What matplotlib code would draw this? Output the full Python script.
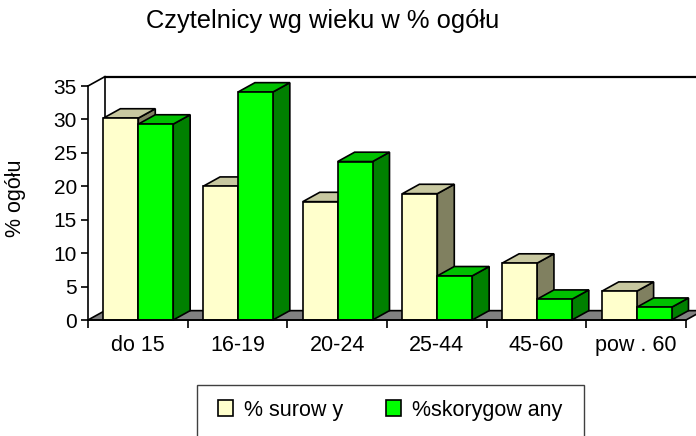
import matplotlib.pyplot as plt
from matplotlib.patches import Polygon, Rectangle, Patch
import numpy as np

plt.rcParams['font.family'] = ['Liberation Sans', 'DejaVu Sans']

categories = ['do 15', '16-19', '20-24', '25-44', '45-60', 'pow . 60']
surowy = [30.2, 20.0, 17.7, 18.9, 8.5, 4.3]
skorygowany = [29.3, 34.1, 23.7, 6.6, 3.1, 1.9]
series_names = ['% surow y', '%skorygow any']
yticks = [0, 5, 10, 15, 20, 25, 30, 35]

# face colours: front, top, side
cream = ('#FFFFCC', '#C8C8A0', '#808060')
green = ('#00FF00', '#00C000', '#008000')

DX, DY = 0.17, 1.4   # depth offset in data units
BAR_W = 0.35
LW = 1.2

fig = plt.figure(figsize=(6.96, 4.36), dpi=100)
ax = fig.add_axes([88 / 696, 1 - 320 / 436, 598 / 696, 234 / 436])
n = len(categories)
ax.set_xlim(0, n)
ax.set_ylim(0, 35)


def poly(pts, color, z):
    ax.add_patch(Polygon(pts, closed=True, facecolor=color, edgecolor='black',
                         linewidth=LW, zorder=z, clip_on=False))


# floor and back wall
poly([(0, 0), (n, 0), (n + DX, DY), (DX, DY)], '#808080', 1)
ax.plot([0, DX], [35, 35 + DY], color='black', lw=LW, clip_on=False, zorder=1)
ax.plot([DX, DX], [DY, 35 + DY], color='black', lw=LW, clip_on=False, zorder=1)
ax.plot([DX, n + DX], [35 + DY, 35 + DY], color='black', lw=LW + 0.4, clip_on=False, zorder=1)


def bar3d(left, h, cols, z):
    r = left + BAR_W
    poly([(r, 0), (r + DX, DY), (r + DX, h + DY), (r, h)], cols[2], z)
    poly([(left, h), (r, h), (r + DX, h + DY), (left + DX, h + DY)], cols[1], z)
    poly([(left, 0), (r, 0), (r, h), (left, h)], cols[0], z + 0.5)


for i in range(n):
    z = 2 + i * 3
    bar3d(i + 0.155, surowy[i], cream, z)
    bar3d(i + 0.155 + BAR_W, skorygowany[i], green, z + 1.5)

for s in ['top', 'right']:
    ax.spines[s].set_visible(False)
for s in ['left', 'bottom']:
    ax.spines[s].set_linewidth(LW)
    ax.spines[s].set_zorder(50)

ax.set_yticks(yticks)
ax.tick_params(axis='y', direction='out', length=5, width=LW, pad=3, labelsize=15)
ax.set_xticks(np.arange(n + 1))
ax.set_xticklabels([])
ax.tick_params(axis='x', which='major', direction='out', length=6, width=LW)
ax.set_xticks(np.arange(n) + 0.5, minor=True)
ax.set_xticklabels(categories, minor=True)
ax.tick_params(axis='x', which='minor', length=0, pad=11, labelsize=15.5)
ax.set_ylabel('% ogółu', fontsize=15.5)
ax.yaxis.set_label_coords(-0.103, 0.52)
ax.set_facecolor('none')

fig.text(323 / 696, 1 - 21 / 436, 'Czytelnicy wg wieku w % ogółu',
         ha='center', va='center', fontsize=18.4)

# legend (frame runs off the bottom edge like in the original)
fig.add_artist(Rectangle((197 / 696, -0.05), (584 - 197) / 696, 1 - 385 / 436 + 0.05,
                         transform=fig.transFigure, facecolor='none',
                         edgecolor='#404040', linewidth=1.0))
handles = [Patch(facecolor=cream[0], edgecolor='black', linewidth=LW),
           Patch(facecolor=green[0], edgecolor='black', linewidth=LW)]
fig.legend(handles, series_names, loc='center', ncol=2, frameon=False,
           bbox_to_anchor=(390 / 696, 1 - 410 / 436), fontsize=15.5,
           handlelength=0.7, handleheight=0.7, handletextpad=0.5, columnspacing=2.0)

fig.savefig('out.png', dpi=100)
